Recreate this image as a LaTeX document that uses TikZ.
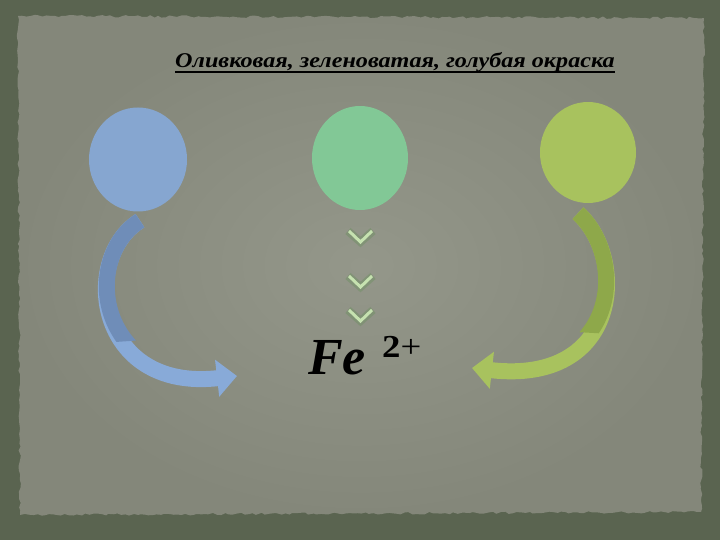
\documentclass[tikz,border=0pt]{standalone}
\usepackage{fontspec}
\setmainfont{Liberation Serif}
\newfontfamily\titlefont[FakeStretch=1.15]{Liberation Serif}
\usepackage{tikz}
\usetikzlibrary{shapes.geometric,arrows.meta,decorations.pathmorphing,calc}
\definecolor{framegreen}{HTML}{5A6450}
\definecolor{paper}{HTML}{84877A}
\definecolor{paperin}{HTML}{94978A}
\definecolor{bluecirc}{HTML}{86A6D0}
\definecolor{greencirc}{HTML}{82C896}
\definecolor{olivecirc}{HTML}{A8C25E}
\definecolor{bluearr}{HTML}{88AAD8}
\definecolor{bluearrdark}{HTML}{6F8DB8}
\definecolor{olivearr}{HTML}{A8C25E}
\definecolor{olivearrdark}{HTML}{8EA84A}
\definecolor{chevlight}{HTML}{C6E2B0}
\definecolor{chevdark}{HTML}{76916A}

\tikzset{
  blob/.style={ellipse,draw=none,inner sep=0pt,minimum width=98pt,minimum height=104pt},
  bigarrow/.style={line width=16pt,-{Triangle[width=36pt,length=20pt]}},
}

\begin{document}
\begin{tikzpicture}[x=1pt,y=-1pt]
  \useasboundingbox (0,0) rectangle (720,540);
  \fill[framegreen] (0,0) rectangle (720,540);
  \pgfmathsetseed{7}
  \shade[inner color=paperin,outer color=paper,decorate,decoration={random steps,segment length=4pt,amplitude=1.2pt}]
    (18,16) -- (704,18) -- (701,512) -- (20,515) -- cycle;

  % circles
  \node[blob,fill=bluecirc] (blue) at (138,159.5) {};
  \node[blob,fill=greencirc,minimum width=96pt] (green) at (360,158) {};
  \node[blob,fill=olivecirc,minimum width=96pt,minimum height=101pt] (olive) at (588,152.5) {};

  % title
  \node[anchor=base,inner sep=0pt,font=\titlefont\fontsize{21}{24}\selectfont\bfseries\itshape] (title) at (395,68) {Оливковая, зеленоватая, голубая окраска};
  \draw[line width=1.4pt] ($(title.base west)+(0,4)$) -- ($(title.base east)+(0,4)$);

  % Fe 2+
  \node[anchor=base west,inner sep=0pt,font=\fontsize{52}{54}\selectfont\bfseries\itshape] (fe) at (308,374) {Fe};
  \node[anchor=base west,inner sep=0pt,font=\titlefont\fontsize{32}{34}\selectfont] (charge) at (382,357) {\textbf{2}+};

  % chevrons
  \foreach \y in {231,276,310}{
    \draw[chevdark,line width=8pt,opacity=0.6] (348,\y) -- (360.5,\y+11) -- (373,\y);
    \draw[chevlight,line width=3pt] (349,\y) -- (360.5,\y+11) -- (372,\y);
  }

  % curved arrows
  \coordinate (bluetail) at ([xshift=2pt,yshift=-9pt]blue.south);
  \coordinate (bluehead) at (237,376);
  \draw[bigarrow,bluearr] (bluetail) .. controls (80,258) and (95,392) .. (bluehead);
  \begin{scope}
    \clip (0,0) -- (720,0) -- (720,300) -- (0,350) -- cycle;
    \draw[bluearrdark,line width=16pt] (bluetail) .. controls (80,258) and (95,392) .. (bluehead);
  \end{scope}

  \coordinate (olivetail) at ([xshift=-10pt,yshift=-10pt]olive.south);
  \coordinate (olivehead) at (472,368);
  \draw[bigarrow,olivearr] (olivetail) .. controls (628,258) and (622,385) .. (olivehead);
  \begin{scope}
    \clip (0,0) -- (720,0) -- (720,340) -- (0,300) -- cycle;
    \draw[olivearrdark,line width=16pt] (olivetail) .. controls (628,258) and (622,385) .. (olivehead);
  \end{scope}
\end{tikzpicture}
\end{document}
